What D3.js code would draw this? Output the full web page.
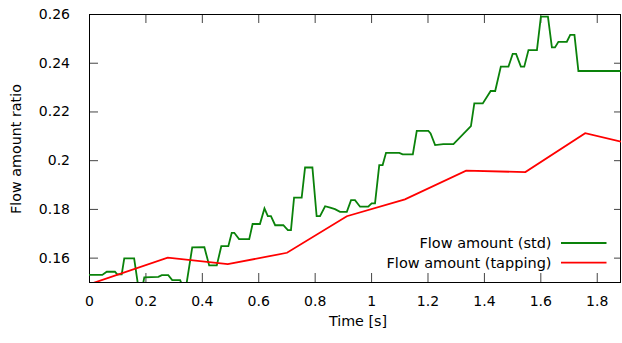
<!DOCTYPE html>
<html><head><meta charset="utf-8">
<script src="https://cdn.jsdelivr.net/npm/d3@7"></script>
<style>
body{margin:0;background:#fff}
text{font-family:"DejaVu Sans",sans-serif;font-size:14px;fill:#000}
</style>
</head><body><svg id="c" width="622" height="343"></svg>
<script>
// ---- data ----
const stdTime = [0,0.047,0.063,0.092,0.100,0.116,0.125,0.160,0.176,0.188,0.196,0.246,0.258,0.281,0.295,0.323,0.333,0.344,0.366,0.409,0.426,0.453,0.469,0.494,0.506,0.515,0.532,0.568,0.580,0.606,0.622,0.634,0.645,0.660,0.689,0.705,0.716,0.727,0.754,0.766,0.792,0.807,0.819,0.837,0.855,0.872,0.890,0.914,0.929,0.943,0.961,0.990,1.002,1.014,1.029,1.041,1.053,1.100,1.112,1.148,1.162,1.203,1.211,1.227,1.256,1.292,1.354,1.366,1.396,1.424,1.440,1.460,1.487,1.502,1.514,1.531,1.543,1.558,1.588,1.602,1.627,1.641,1.652,1.664,1.694,1.706,1.721,1.735,1.886];
const stdValue = [0.1529,0.1529,0.1542,0.1542,0.1531,0.1531,0.1597,0.1597,0.1470,0.1470,0.1519,0.1521,0.1528,0.1528,0.1508,0.1508,0.1480,0.1480,0.1642,0.1643,0.1568,0.1568,0.1647,0.1647,0.1702,0.1702,0.1676,0.1676,0.1738,0.1738,0.1802,0.1770,0.1770,0.1733,0.1733,0.1713,0.1713,0.1846,0.1846,0.1970,0.1970,0.1770,0.1770,0.1811,0.1805,0.1799,0.1788,0.1788,0.1836,0.1836,0.1809,0.1809,0.1823,0.1823,0.1980,0.1980,0.2030,0.2030,0.2024,0.2024,0.2120,0.2120,0.2110,0.2062,0.2066,0.2066,0.2140,0.2233,0.2233,0.2284,0.2284,0.2384,0.2384,0.2436,0.2436,0.2384,0.2384,0.2452,0.2452,0.2589,0.2589,0.2463,0.2463,0.2486,0.2486,0.2514,0.2514,0.2366,0.2366];
const tapTime = [0,0.279,0.492,0.702,0.914,1.120,1.337,1.547,1.759,1.886];
const tapValue = [0.1490,0.1600,0.1573,0.1620,0.1770,0.1839,0.1957,0.1951,0.2111,0.2076];
const xTicks = [0,0.2,0.4,0.6,0.8,1,1.2,1.4,1.6,1.8];
const xTickLabels = ["0","0.2","0.4","0.6","0.8","1","1.2","1.4","1.6","1.8"];
const yTicks = [0.16,0.18,0.2,0.22,0.24,0.26];
const yTickLabels = ["0.16","0.18","0.2","0.22","0.24","0.26"];
const seriesNames = ["Flow amount (std)","Flow amount (tapping)"];
const xDomain = [0,1.886];
const yDomain = [0.15,0.26];

// ---- layout ----
const L=89,R=621,T=14,B=282;
const svg=d3.select("#c");
const x=d3.scaleLinear().domain(xDomain).range([L,R]);
const y=d3.scaleLinear().domain(yDomain).range([B,T]);
const tickCol="#444";

function styleAxis(g){
  g.select(".domain").remove();
  g.selectAll(".tick line").attr("stroke",tickCol).attr("stroke-width",1);
}
// bottom
svg.append("g").attr("transform",`translate(0,${B})`)
  .call(d3.axisBottom(x).tickValues(xTicks).tickFormat((d,i)=>xTickLabels[i]).tickSizeInner(-9).tickPadding(14))
  .call(styleAxis)
  .call(g=>g.selectAll("text").attr("font-family","DejaVu Sans").attr("font-size",14).attr("fill","#000"));
// top
svg.append("g").attr("transform",`translate(0,${T})`)
  .call(d3.axisTop(x).tickValues(xTicks).tickFormat("").tickSizeInner(-9))
  .call(styleAxis);
// left
svg.append("g").attr("transform",`translate(${L},0)`)
  .call(d3.axisLeft(y).tickValues(yTicks).tickFormat((d,i)=>yTickLabels[i]).tickSizeInner(-9).tickPadding(19))
  .call(styleAxis)
  .call(g=>g.selectAll("text").attr("font-family","DejaVu Sans").attr("font-size",14).attr("fill","#000"));
// right
svg.append("g").attr("transform",`translate(${R},0)`)
  .call(d3.axisRight(y).tickValues(yTicks).tickFormat("").tickSizeInner(-7))
  .call(styleAxis);

// frame
svg.append("rect").attr("x",L+0.5).attr("y",T+0.5).attr("width",R-L-1).attr("height",B-T)
  .attr("fill","none").attr("stroke","#000").attr("stroke-width",1);

// clip
svg.append("clipPath").attr("id","clip").append("rect")
  .attr("x",L).attr("y",T).attr("width",R-L).attr("height",B-T);

const line=d3.line().x(d=>x(d[0])).y(d=>y(d[1]));
const stdData=stdTime.map((t,i)=>[t,stdValue[i]]);
const tapData=tapTime.map((t,i)=>[t,tapValue[i]]);
const colors=["#0a820a","#ff0000"];

const plot=svg.append("g").attr("clip-path","url(#clip)");
plot.append("path").datum(stdData).attr("d",line).attr("fill","none")
  .attr("stroke",colors[0]).attr("stroke-width",1.8).attr("stroke-linejoin","miter");
plot.append("path").datum(tapData).attr("d",line).attr("fill","none")
  .attr("stroke",colors[1]).attr("stroke-width",1.8);

// legend
const legY=[243,262.7];
seriesNames.forEach((n,i)=>{
  svg.append("text").attr("x",551.5).attr("y",legY[i]).attr("dy","0.35em")
    .attr("text-anchor","end").style("font-size","14.5px").text(n);
  svg.append("line").attr("x1",561).attr("x2",606.5).attr("y1",legY[i]).attr("y2",legY[i])
    .attr("stroke",colors[i]).attr("stroke-width",1.8);
});

// axis titles
svg.append("text").attr("x",358).attr("y",326).attr("text-anchor","middle").style("font-size","14.3px").text("Time [s]");
svg.append("text").attr("transform","translate(21,149) rotate(-90)").attr("text-anchor","middle").style("font-size","14.3px").text("Flow amount ratio");
</script></body></html>
